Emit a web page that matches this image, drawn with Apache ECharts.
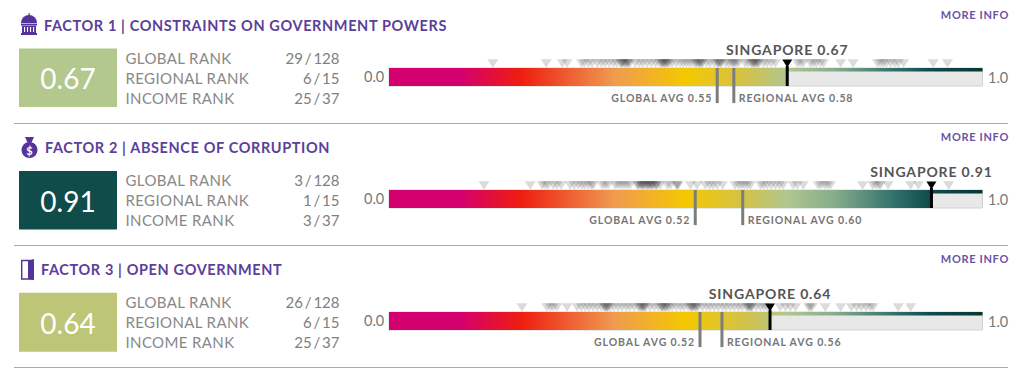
<!DOCTYPE html>
<html><head><meta charset="utf-8">
<style>html,body{margin:0;padding:0;background:#fff}#c{width:1024px;height:368px}
text[fill="#5b3f9b"]{letter-spacing:.62px}
text[fill="#888"],text[fill="#888888"]{letter-spacing:.38px}
text[fill="#555"],text[fill="#555555"]{letter-spacing:.85px}
text[fill="#767676"]{letter-spacing:.9px}
text[fill="#6a53a6"]{letter-spacing:.67px}
</style>
<script src="https://cdn.jsdelivr.net/npm/echarts@6/dist/echarts.min.js"></script>
</head><body><div id="c"></div>
<script>
const factorTitles = ['FACTOR 1 | CONSTRAINTS ON GOVERNMENT POWERS','FACTOR 2 | ABSENCE OF CORRUPTION','FACTOR 3 | OPEN GOVERNMENT'];
const scores = [0.671, 0.914, 0.642];
const globalAvg = [0.553, 0.516, 0.524];
const regionalAvg = [0.581, 0.596, 0.561];
const rankNames = ['GLOBAL RANK','REGIONAL RANK','INCOME RANK'];
const ranksF1 = ['29 / 128','6 / 15','25 / 37'];
const ranksF2 = ['3 / 128','1 / 15','3 / 37'];
const ranksF3 = ['26 / 128','6 / 15','25 / 37'];
const boxColors = ['#b3c88d','#0f4c4a','#bcc676'];
const countriesF1 = [.175,.265,.292,.300,.324,.329,.336,.342,.351,.358,.364,.371,.378,.384,.390,.393,.396,.400,.403,.406,.392,.397,.402,.415,.422,.428,.435,.442,.449,.455,.459,.462,.465,.469,.472,.460,.464,.468,.477,.484,.491,.496,.501,.506,.511,.516,.521,.524,.528,.518,.523,.527,.535,.541,.548,.553,.556,.560,.555,.559,.567,.572,.577,.582,.589,.580,.585,.600,.605,.610,.614,.617,.621,.624,.612,.616,.620,.631,.637,.644,.651,.688,.693,.698,.710,.715,.720,.727,.732,.761,.782,.823,.828,.833,.838,.845,.852,.858,.867,.917,.941];
const countriesF2 = [.160,.238,.258,.263,.268,.277,.283,.290,.305,.312,.319,.325,.330,.336,.341,.344,.359,.364,.369,.381,.386,.391,.396,.401,.406,.418,.422,.425,.428,.432,.435,.438,.442,.445,.449,.452,.457,.420,.426,.430,.436,.440,.444,.450,.469,.474,.484,.486,.487,.508,.519,.533,.540,.546,.553,.562,.583,.589,.594,.599,.604,.609,.626,.631,.637,.644,.651,.658,.664,.681,.688,.698,.723,.728,.734,.739,.744,.798,.815,.820,.825,.828,.841,.879,.892,.943];
const countriesF3 = [.224,.266,.272,.277,.283,.300,.317,.324,.331,.337,.344,.351,.358,.363,.366,.369,.373,.364,.368,.379,.386,.393,.400,.406,.413,.420,.423,.427,.430,.433,.425,.429,.440,.447,.454,.459,.462,.465,.469,.472,.460,.466,.477,.484,.491,.497,.504,.508,.511,.514,.518,.521,.510,.516,.528,.535,.541,.548,.555,.562,.568,.575,.582,.589,.595,.602,.605,.609,.612,.606,.610,.619,.626,.632,.637,.659,.668,.676,.685,.707,.710,.713,.735,.761,.779,.788,.796,.804,.811,.816,.858,.879];
const colorStops = [[0,'#d4006f'],[.12,'#d4006f'],[.22,'#ee1c10'],[.38,'#ef9b50'],[.5,'#f4c800'],[.6,'#d2c24a'],[.67,'#b1c68f'],[.75,'#86ad8c'],[.85,'#33726c'],[.91,'#0f4c4c'],[1,'#0a3434']];

const ranks = [ranksF1, ranksF2, ranksF3];
const countries = [countriesF1, countriesF2, countriesF3];
const FONT = 'Lato';
const stops = colorStops.map(s => ({offset: s[0], color: s[1]}));
const barTops = [68, 190, 312], barH = 18, barL = 389, barW = 593.5;
const grids = [], xAxes = [], yAxes = [], series = [], graphic = [];
const txt = (x, y, text, o) => graphic.push({type:'text', silent:true, x, y, style:Object.assign({text, fontFamily:FONT, verticalAlign:'middle'}, o)});

barTops.forEach((top, i) => {
  grids.push({left:barL, top, width:barW, height:barH, containLabel:false});
  xAxes.push({gridIndex:i, type:'value', min:0, max:1, show:false});
  yAxes.push({gridIndex:i, type:'value', min:0, max:1, show:false});
  const v = scores[i];
  series.push({type:'custom', xAxisIndex:i, yAxisIndex:i, clip:false, silent:true, z:1, data:[[v]],
    renderItem(p, api){
      const val = api.value(0), a = api.coord([0,1]), m = api.coord([val,1]), e = api.coord([1,0]);
      const h = e[1]-a[1];
      const fill = new echarts.graphic.LinearGradient(a[0],0,e[0],0,stops,true);
      return {type:'group', children:[
        {type:'rect', shape:{x:a[0],y:a[1],width:e[0]-a[0],height:h}, style:{fill:'#e8e8e8',stroke:'#cdd5d0',lineWidth:1}},
        {type:'rect', shape:{x:a[0],y:a[1],width:m[0]-a[0],height:h}, style:{fill}},
        {type:'rect', shape:{x:m[0],y:a[1],width:e[0]-m[0],height:3.5}, style:{fill}}
      ]};
    }});
  series.push({type:'scatter', xAxisIndex:i, yAxisIndex:i, clip:false, silent:true, z:2,
    symbol:'triangle', symbolRotate:180, symbolSize:[11,8.5],
    itemStyle:{color:'rgba(40,40,40,0.17)', opacity:1},
    data:countries[i].map(c => [c, 1.25])});
  const avgs = [[globalAvg[i],'GLOBAL AVG ',-1],[regionalAvg[i],'REGIONAL AVG ',1]];
  series.push({type:'custom', xAxisIndex:i, yAxisIndex:i, clip:false, silent:true, z:3, data:avgs.map(a => [a[0], a[2]]),
    renderItem(p, api){
      const val = api.value(0), side = api.value(1), t = api.coord([val,1]), b = api.coord([val,-0.95]);
      const name = side < 0 ? avgs[0][1] : avgs[1][1];
      return {type:'group', children:[
        {type:'rect', shape:{x:t[0]-1.5,y:t[1],width:3,height:b[1]-t[1]}, style:{fill:'#7d7d7d'}},
        {type:'text', x:t[0]+side*5, y:t[1]+29.7, style:{text:name+val.toFixed(2), fill:'#767676', fontFamily:FONT, fontWeight:700, fontSize:10.5, align:side<0?'right':'left', verticalAlign:'middle'}}
      ]};
    }});
  series.push({type:'custom', xAxisIndex:i, yAxisIndex:i, clip:false, silent:true, z:4, data:[[v]],
    renderItem(p, api){
      const val = api.value(0), t = api.coord([val,1]), b = api.coord([val,0]);
      return {type:'group', children:[
        {type:'rect', shape:{x:t[0]-1.5,y:t[1]-2,width:3,height:b[1]-t[1]+2}, style:{fill:'#000'}},
        {type:'text', x:t[0], y:t[1]-18.5, style:{text:'SINGAPORE '+val.toFixed(2), fill:'#555', fontFamily:FONT, fontWeight:700, fontSize:14, align:'center', verticalAlign:'middle'}}
      ]};
    }});
  series.push({type:'scatter', xAxisIndex:i, yAxisIndex:i, clip:false, silent:true, z:5,
    symbol:'triangle', symbolRotate:180, symbolSize:[10,8], itemStyle:{color:'#000',opacity:1}, data:[[v,1.25]]});

  const dy = top - 68;
  txt(364, top+8.5, '0.0', {fill:'#777', fontSize:14.5});
  txt(988, top+9, '1.0', {fill:'#777', fontSize:14.5});
  txt(1009, 14.5+dy, 'MORE INFO', {fill:'#6a53a6', fontSize:11, fontWeight:700, align:'right'});
  txt([44,45,41][i], 25+dy, factorTitles[i], {fill:'#5b3f9b', fontSize:14.5, fontWeight:700});
  const boxTop = [48.5,171,292.7][i], boxH = [58.5,58.5,59][i];
  graphic.push({type:'rect', silent:true, shape:{x:19,y:boxTop,width:98,height:boxH}, style:{fill:boxColors[i]}});
  txt(68, boxTop+boxH/2+0.4, v.toFixed(2), {fill:'#fff', fontSize:28, align:'center'});
  rankNames.forEach((n, r) => {
    const y = [57.8,179.8,301.8][i] + r*20.3;
    txt(125.5, y, n, {fill:'#888', fontSize:15});
    txt(339.5, y, ranks[i][r], {fill:'#808080', fontSize:15, align:'right'});
  });
  graphic.push({type:'line', silent:true, shape:{x1:14,y1:123.5+dy,x2:1008,y2:123.5+dy}, style:{stroke:'#aaa',lineWidth:1}});
});

/* header icons */
const P = '#55349a';
const R = (x,y,w,h,fill) => graphic.push({type:'rect', silent:true, shape:{x,y,width:w,height:h}, style:{fill:fill||P}});
R(28.5,13,1.2,3);
graphic.push({type:'sector', silent:true, shape:{cx:29,cy:23,r:8,r0:0,startAngle:Math.PI,endAngle:2*Math.PI}, style:{fill:P}});
R(21,23.6,16,2); R(22,26,14,7); R(21,33,16,2);
[24,27,30,33].forEach(x => R(x,27,1.1,5,'#fff'));
graphic.push({type:'polygon', silent:true, shape:{points:[[25,137],[34,137],[31.5,142.5],[27.5,142.5]]}, style:{fill:P}});
graphic.push({type:'circle', silent:true, shape:{cx:29.5,cy:150,r:8}, style:{fill:P}});
txt(29.5,150,'$',{fill:'#fff',fontSize:11,fontWeight:700,align:'center'});
graphic.push({type:'rect', silent:true, shape:{x:21.7,y:260.5,width:11,height:18.5}, style:{fill:'none',stroke:P,lineWidth:1.4}});
graphic.push({type:'polygon', silent:true, shape:{points:[[28,261],[34,259],[34,280],[28,279]]}, style:{fill:P}});

const chart = echarts.init(document.getElementById('c'), null, {renderer:'svg'});
chart.setOption({animation:false, grid:grids, xAxis:xAxes, yAxis:yAxes, series, graphic:{elements:graphic}, tooltip:{show:false}});
document.querySelectorAll('#c svg text').forEach(t => { if (t.getAttribute('fill') === '#808080') t.style.wordSpacing = '-2px'; });
</script></body></html>
